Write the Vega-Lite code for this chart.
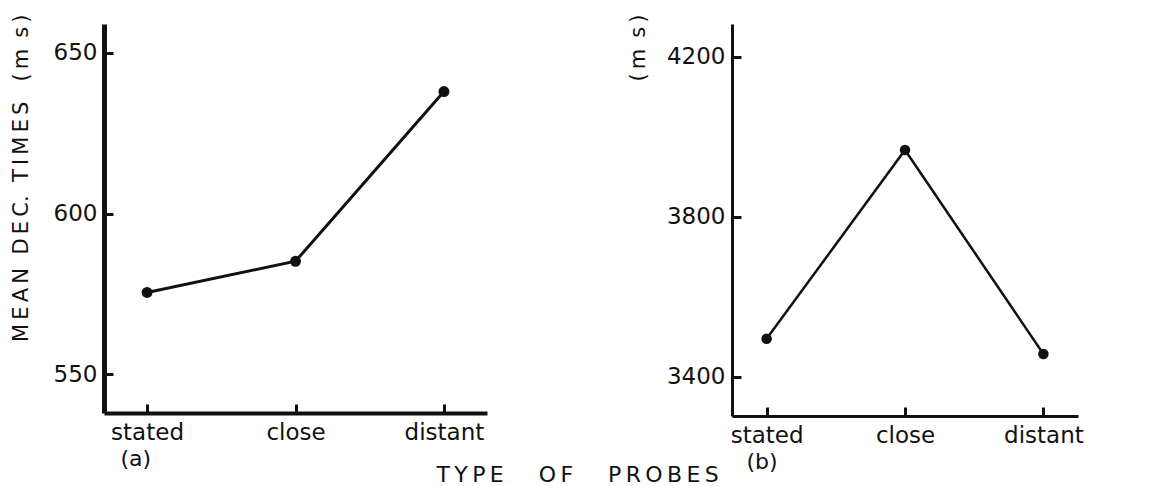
{
  "$schema": "https://vega.github.io/schema/vega-lite/v6.json",
  "background": "white",
  "padding": {"left": 10, "top": 13, "right": 5, "bottom": 0},
  "config": {
    "view": {"stroke": null},
    "font": "DejaVu Sans",
    "axis": {
      "grid": false,
      "domainColor": "#111",
      "tickColor": "#111",
      "labelColor": "#111",
      "titleColor": "#111",
      "labelFont": "DejaVu Sans",
      "titleFont": "DejaVu Sans",
      "labelFontSize": 23,
      "titleFontSize": 21,
      "titleFontWeight": "normal",
      "tickSize": -9,
      "tickWidth": 3,
      "domainWidth": 4
    }
  },
  "title": {
    "text": "T\u2009Y\u2009P\u2009E\u00a0\u00a0\u00a0\u00a0\u00a0O\u2009F\u00a0\u00a0\u00a0\u00a0\u00a0P\u2009R\u2009O\u2009B\u2009E\u2009S",
    "orient": "bottom",
    "anchor": "middle",
    "font": "DejaVu Sans",
    "fontSize": 22,
    "fontWeight": "normal",
    "color": "#111",
    "offset": -7,
    "dx": 31
  },
  "spacing": 140,
  "hconcat": [
    {
      "width": 383,
      "height": 389,
      "data": {"values": [
        {"probe": "stated", "time": 575.5},
        {"probe": "close", "time": 585.2},
        {"probe": "distant", "time": 638}
      ]},
      "encoding": {
        "x": {
          "field": "probe", "type": "ordinal", "sort": ["stated", "close", "distant"],
          "scale": {"type": "point", "padding": 0.29},
          "axis": {"title": "(a)", "titleAnchor": "start", "titleAlign": "left", "titleX": 16, "titlePadding": 4, "labelAngle": 0, "labelPadding": 17, "titleFontSize": 22}
        },
        "y": {
          "field": "time", "type": "quantitative",
          "scale": {"domain": [538, 659], "nice": false, "zero": false},
          "axis": {"title": "M\u2009E\u2009A\u2009N\u00a0\u00a0D\u2009E\u2009C.\u00a0\u00a0T\u2009I\u2009M\u2009E\u2009S\u00a0\u00a0\u00a0(\u2009m\u2009\u00a0s\u2009)", "values": [550, 600, 650], "format": "d", "titleAnchor": "end", "titleY": -10, "titlePadding": 22, "labelPadding": 16, "domainWidth": 5}
        }
      },
      "layer": [
        {"mark": {"type": "line", "color": "#111", "strokeWidth": 3}},
        {"mark": {"type": "point", "filled": true, "color": "#111", "opacity": 1, "size": 120}}
      ]
    },
    {
      "width": 346,
      "height": 392,
      "data": {"values": [
        {"probe": "stated", "time": 3495},
        {"probe": "close", "time": 3967},
        {"probe": "distant", "time": 3457}
      ]},
      "encoding": {
        "x": {
          "field": "probe", "type": "ordinal", "sort": ["stated", "close", "distant"],
          "scale": {"type": "point", "padding": 0.25},
          "axis": {"title": "(b)", "titleAnchor": "start", "titleAlign": "left", "titleX": 14, "titlePadding": 4, "labelAngle": 0, "labelPadding": 17, "titleFontSize": 22, "domainWidth": 3}
        },
        "y": {
          "field": "time", "type": "quantitative",
          "scale": {"domain": [3302, 4282], "nice": false, "zero": false},
          "axis": {"title": "(\u2009m\u2009\u00a0s\u2009)", "values": [3400, 3800, 4200], "format": "d", "titleAnchor": "end", "titleY": -10, "titlePadding": 18, "labelPadding": 16, "domainWidth": 3}
        }
      },
      "layer": [
        {"mark": {"type": "line", "color": "#111", "strokeWidth": 2.5}},
        {"mark": {"type": "point", "filled": true, "color": "#111", "opacity": 1, "size": 110}}
      ]
    }
  ]
}
